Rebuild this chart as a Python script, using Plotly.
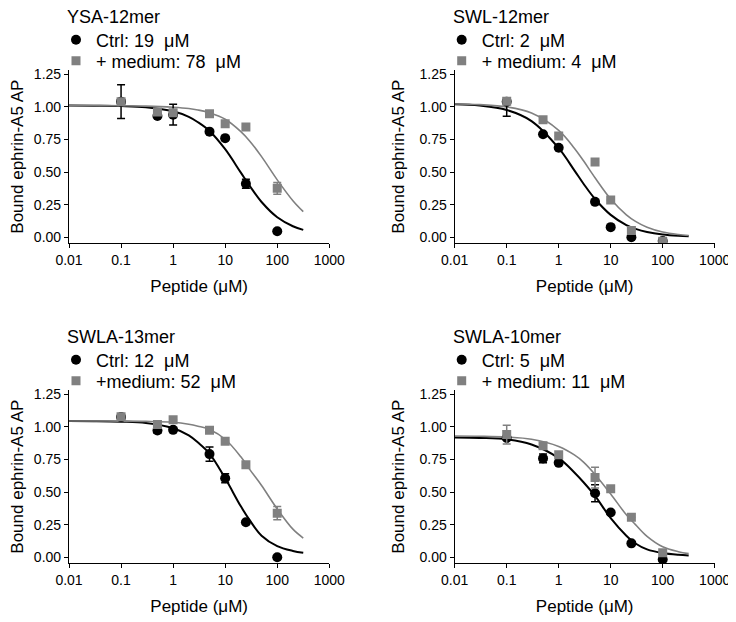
import plotly.graph_objects as go

W, H = 736, 622
OFF = 8  # page body margin that shifts the figure on screen

# peptide concentrations (uM) of the measured points
dose = [0.1, 0.5, 1, 5, 10, 25, 100]

ysa_ctrl = [1.04, 0.93, 0.94, 0.81, 0.76, 0.41, 0.045]
ysa_ctrl_err = [0.13, None, 0.08, None, None, 0.035, None]
ysa_med = [1.04, 0.96, 0.955, 0.948, 0.87, 0.845, 0.375]
ysa_med_err = [None, None, None, None, None, None, 0.045]

swl_ctrl = [1.04, 0.79, 0.686, 0.271, 0.077, 0.0, -0.03]
swl_ctrl_err = [0.0, None, None, None, None, None, None]
swl_ctrl_err_minus = [0.112, None, None, None, None, None, None]
swl_med = [1.044, 0.902, 0.776, 0.577, 0.286, 0.052, -0.031]
swl_med_err = [None, None, None, None, None, None, None]

swla13_ctrl = [1.075, 0.972, 0.977, 0.791, 0.606, 0.268, 0.0]
swla13_ctrl_err = [None, 0.02, None, 0.055, 0.035, None, None]
swla13_med = [1.077, 1.018, 1.054, 0.974, 0.889, 0.709, 0.338]
swla13_med_err = [None, None, None, None, None, None, 0.05]

swla10_ctrl = [0.915, 0.758, 0.724, 0.49, 0.343, 0.106, -0.018]
swla10_ctrl_err = [None, 0.033, None, 0.065, None, None, None]
swla10_med = [0.941, 0.856, 0.786, 0.611, 0.526, 0.307, 0.034]
swla10_med_err = [0.072, None, None, 0.08, None, None, None]

# fitted curves
fit_x = [0.01, 0.03, 0.1, 0.3, 1, 2, 3, 5, 10, 20, 30, 50, 100, 200, 316]
ysa_ctrl_fit = [1.010, 1.009, 1.006, 0.997, 0.966, 0.923, 0.882, 0.815, 0.675, 0.495, 0.39, 0.27, 0.153, 0.084, 0.056]
ysa_med_fit = [1.010, 1.010, 1.009, 1.006, 0.997, 0.987, 0.976, 0.955, 0.905, 0.81, 0.735, 0.618, 0.44, 0.28, 0.196]
swl_ctrl_fit = [1.020, 1.010, 0.976, 0.891, 0.683, 0.513, 0.41, 0.293, 0.171, 0.093, 0.064, 0.039, 0.020, 0.010, 0.0064]
swl_med_fit = [1.022, 1.017, 1.0, 0.953, 0.82, 0.683, 0.586, 0.456, 0.293, 0.171, 0.121, 0.076, 0.039, 0.020, 0.0128]
swla13_ctrl_fit = [1.045, 1.044, 1.04, 1.03, 0.99, 0.935, 0.88, 0.795, 0.605, 0.39, 0.28, 0.165, 0.085, 0.048, 0.034]
swla13_med_fit = [1.045, 1.045, 1.044, 1.042, 1.035, 1.02, 1.005, 0.98, 0.905, 0.77, 0.67, 0.55, 0.37, 0.215, 0.147]
swla10_ctrl_fit = [0.918, 0.915, 0.905, 0.865, 0.76, 0.65, 0.575, 0.47, 0.30, 0.165, 0.105, 0.06, 0.032, 0.018, 0.013]
swla10_med_fit = [0.93, 0.928, 0.922, 0.905, 0.85, 0.785, 0.73, 0.635, 0.485, 0.325, 0.25, 0.16, 0.08, 0.042, 0.027]

titles = ["YSA-12mer", "SWL-12mer", "SWLA-13mer", "SWLA-10mer"]
ctrl_names = ["Ctrl: 19\u00a0 μM", "Ctrl: 2\u00a0 μM", "Ctrl: 12\u00a0 μM", "Ctrl: 5\u00a0 μM"]
med_names = ["+ medium: 78\u00a0 μM", "+ medium: 4\u00a0 μM", "+medium: 52\u00a0 μM", "+ medium: 11\u00a0 μM"]

x_ticks = [0.01, 0.1, 1, 10, 100, 1000]
x_ticktext = ["0.01", "0.1", "1", "10", "100", "1000"]
y_ticks = [0, 0.25, 0.5, 0.75, 1.0, 1.25]

panels = [
    (ysa_ctrl, ysa_ctrl_err, None, ysa_med, ysa_med_err, ysa_ctrl_fit, ysa_med_fit),
    (swl_ctrl, swl_ctrl_err, swl_ctrl_err_minus, swl_med, swl_med_err, swl_ctrl_fit, swl_med_fit),
    (swla13_ctrl, swla13_ctrl_err, None, swla13_med, swla13_med_err, swla13_ctrl_fit, swla13_med_fit),
    (swla10_ctrl, swla10_ctrl_err, None, swla10_med, swla10_med_err, swla10_ctrl_fit, swla10_med_fit),
]

# screen-pixel boxes of the four plot areas (left, right, top, bottom)
boxes = [(69, 329.3, 70, 243.3), (454.7, 714.7, 70, 243.3),
         (69, 329.3, 390, 563.3), (454.7, 714.7, 390, 563.3)]


def fx(px):
    return (px - OFF) / W


def fy(py):
    return 1 - (py - OFF) / H


GRAY = "#808080"
FONT = "Liberation Sans"

fig = go.Figure()
layout = dict(width=W, height=H, margin=dict(l=0, r=0, t=0, b=0, autoexpand=False),
              paper_bgcolor="white", plot_bgcolor="white",
              font=dict(family=FONT, color="black", size=14),
              showlegend=True, annotations=[])

for i, (c, ce, ce_minus, m, me, cf, mf) in enumerate(panels):
    n = "" if i == 0 else str(i + 1)
    xa, ya = "x" + n, "y" + n
    leg_c = "legend" + ("" if i == 0 else str(2 * i + 1))
    leg_m = "legend" + str(2 * i + 2)

    ctrl_err = dict(type="data", array=ce, color="black", thickness=1.5, width=4)
    if ce_minus is not None:
        ctrl_err.update(symmetric=False, arrayminus=ce_minus)

    fig.add_trace(go.Scatter(x=fit_x, y=cf, mode="lines", line=dict(color="black", width=2, shape="spline"),
                             xaxis=xa, yaxis=ya, showlegend=False, hoverinfo="skip"))
    fig.add_trace(go.Scatter(x=fit_x, y=mf, mode="lines", line=dict(color=GRAY, width=1.6, shape="spline"),
                             xaxis=xa, yaxis=ya, showlegend=False, hoverinfo="skip"))
    fig.add_trace(go.Scatter(x=dose, y=c, mode="markers", name=ctrl_names[i],
                             marker=dict(symbol="circle", size=10, color="black"),
                             error_y=ctrl_err, xaxis=xa, yaxis=ya, legend=leg_c))
    fig.add_trace(go.Scatter(x=dose, y=m, mode="markers", name=med_names[i],
                             marker=dict(symbol="square", size=9, color=GRAY),
                             error_y=dict(type="data", array=me, color=GRAY, thickness=1.5, width=4),
                             xaxis=xa, yaxis=ya, legend=leg_m))

    l, r, t, b = boxes[i]
    axis_common = dict(showline=True, linecolor="black", linewidth=1.2, ticks="outside", ticklen=4,
                       tickwidth=1.2, tickcolor="black", showgrid=False, zeroline=False, automargin=False,
                       tickfont=dict(size=14, family=FONT))
    layout["xaxis" + n] = dict(axis_common, type="log", range=[-2, 3], domain=[fx(l), fx(r)],
                               anchor=ya, tickvals=x_ticks, ticktext=x_ticktext,
                               title=dict(text="Peptide (μM)", font=dict(size=17), standoff=12))
    layout["yaxis" + n] = dict(axis_common, range=[-0.047, 1.283], domain=[fy(b), fy(t)],
                               anchor=xa, tickvals=y_ticks, tickformat=".2f",
                               title=dict(text="Bound ephrin-A5 AP", font=dict(size=17), standoff=10))
    for leg, row_y in ((leg_c, t - 30), (leg_m, t - 9)):
        layout[leg] = dict(x=fx(l - 13), y=fy(row_y), xanchor="left", yanchor="middle",
                           font=dict(size=18), bgcolor="rgba(0,0,0,0)", itemwidth=30)
    layout["annotations"].append(dict(text=titles[i], xref="paper", yref="paper", x=fx(l - 4),
                                      y=fy(t - 53), xanchor="left", yanchor="middle",
                                      showarrow=False, font=dict(size=18)))

fig.update_layout(**layout)
fig.write_html("out.html")
